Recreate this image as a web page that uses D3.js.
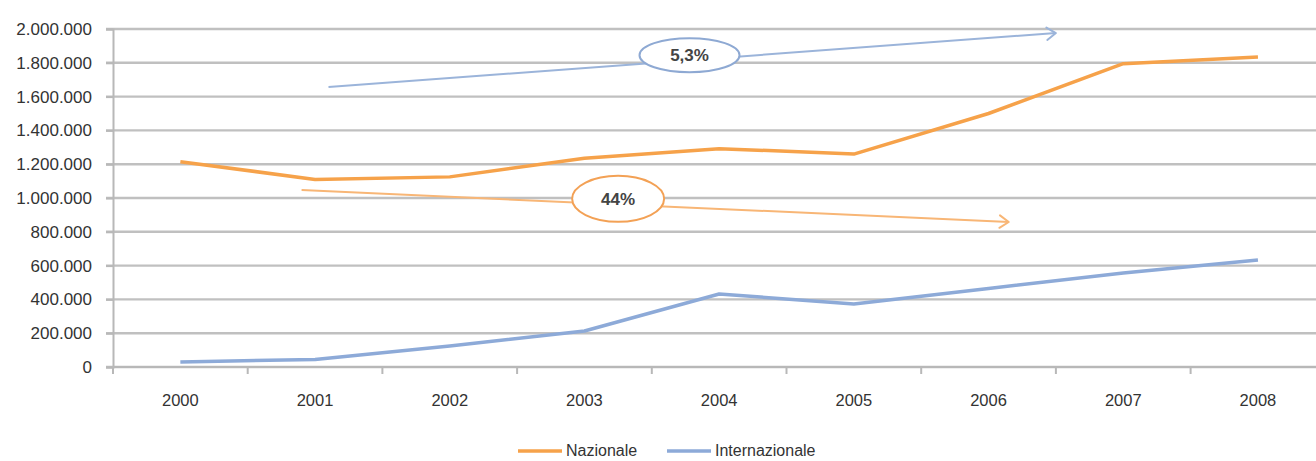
<!DOCTYPE html>
<html>
<head>
<meta charset="utf-8">
<script src="https://cdn.jsdelivr.net/npm/d3@7"></script>
<style>
  html, body { margin: 0; padding: 0; background: #fff; }
  svg { display: block; font-family: "Liberation Sans", Arial, sans-serif; }
</style>
</head>
<body>
<svg id="chart" width="1316" height="461"></svg>
<script>
// Passenger series, 2000-2008
const years = ["2000", "2001", "2002", "2003", "2004", "2005", "2006", "2007", "2008"];
const nazionale = [1215000, 1110000, 1125000, 1235000, 1292000, 1260000, 1500000, 1795000, 1835000];
const internazionale = [30000, 45000, 124000, 213000, 432000, 373000, 465000, 556000, 633000];
const yTicks = [0, 200000, 400000, 600000, 800000, 1000000, 1200000, 1400000, 1600000, 1800000, 2000000];
const seriesNames = ["Nazionale", "Internazionale"];

// Trend arrows: start/end as (year position, value), with a label on each
const trendLabels = ["5,3%", "44%"];
const trendStart = [[1.10, 1657000], [0.90, 1047000]];
const trendEnd = [[6.50, 1976000], [6.15, 858000]];
const trendBadge = [[3.78, 1845000], [3.25, 995000]];

const colors = { Nazionale: "#F6A24A", Internazionale: "#8DAAD8" };
const trendColors = ["#9BB4DA", "#F8B676"];

const svg = d3.select("#chart");
const W = 1316;

const x = d3.scaleBand().domain(years).range([113, 113 + 9 * 134.7]);
const y = d3.scaleLinear().domain([0, 2000000]).range([367, 29]);
// continuous position along the category axis (band centres)
const xPos = d3.scaleLinear().domain([0, 1]).range([x(years[0]) + x.bandwidth() / 2, x(years[1]) + x.bandwidth() / 2]);

const itFormat = d3.formatLocale({ decimal: ",", thousands: ".", grouping: [3], currency: ["", "€"] }).format(",");

// horizontal gridlines
svg.append("g")
  .selectAll("line")
  .data(yTicks)
  .join("line")
  .attr("x1", 106).attr("x2", W)
  .attr("y1", d => y(d)).attr("y2", d => y(d))
  .attr("stroke", "#C0C0C0")
  .attr("stroke-width", 2.4);

// y axis
const yAxis = svg.append("g")
  .attr("transform", "translate(113,0)")
  .call(d3.axisLeft(y).tickValues(yTicks).tickFormat(itFormat).tickSize(7).tickPadding(14));
yAxis.select(".domain").attr("stroke", "#B8B8B8").attr("stroke-width", 2);
yAxis.selectAll(".tick line").attr("stroke", "#B8B8B8").attr("stroke-width", 2);
yAxis.selectAll("text").attr("font-size", 17).attr("fill", "#333").attr("font-family", "Liberation Sans, Arial, sans-serif");

// x axis
const xAxis = svg.append("g")
  .attr("transform", "translate(0,367)");
xAxis.append("line")
  .attr("x1", 113).attr("x2", W)
  .attr("stroke", "#B8B8B8").attr("stroke-width", 2);
xAxis.selectAll(".xtick")
  .data(d3.range(years.length + 1))
  .join("line")
  .attr("class", "xtick")
  .attr("x1", i => x.range()[0] + i * x.step())
  .attr("x2", i => x.range()[0] + i * x.step())
  .attr("y1", 0).attr("y2", 7)
  .attr("stroke", "#B8B8B8").attr("stroke-width", 2);
xAxis.selectAll(".xlabel")
  .data(years)
  .join("text")
  .attr("class", "xlabel")
  .attr("x", d => x(d) + x.bandwidth() / 2)
  .attr("y", 39)
  .attr("text-anchor", "middle")
  .attr("font-size", 16.5)
  .attr("fill", "#333")
  .text(d => d);

// series lines
const line = d3.line()
  .x((d, i) => x(years[i]) + x.bandwidth() / 2)
  .y(d => y(d));

[[nazionale, "Nazionale"], [internazionale, "Internazionale"]].forEach(([vals, name]) => {
  svg.append("path")
    .datum(vals)
    .attr("d", line)
    .attr("fill", "none")
    .attr("stroke", colors[name])
    .attr("stroke-width", 3.5)
    .attr("stroke-linejoin", "round");
});

// trend arrows with labelled ellipses
trendLabels.forEach((label, k) => {
  const x1 = xPos(trendStart[k][0]), y1 = y(trendStart[k][1]);
  const x2 = xPos(trendEnd[k][0]), y2 = y(trendEnd[k][1]);
  const col = trendColors[k];
  const g = svg.append("g");
  g.append("line")
    .attr("x1", x1).attr("y1", y1).attr("x2", x2).attr("y2", y2)
    .attr("stroke", col).attr("stroke-width", 2);
  const ang = Math.atan2(y2 - y1, x2 - x1);
  const L = 11, spread = 0.6;
  const head = [
    [x2 - L * Math.cos(ang - spread), y2 - L * Math.sin(ang - spread)],
    [x2, y2],
    [x2 - L * Math.cos(ang + spread), y2 - L * Math.sin(ang + spread)]
  ];
  g.append("path")
    .attr("d", d3.line()(head))
    .attr("fill", "none").attr("stroke", col).attr("stroke-width", 2)
    .attr("stroke-linejoin", "round").attr("stroke-linecap", "round");
  const cx = xPos(trendBadge[k][0]), cy = y(trendBadge[k][1]);
  g.append("ellipse")
    .attr("cx", cx).attr("cy", cy)
    .attr("rx", k === 0 ? 50 : 46).attr("ry", k === 0 ? 17 : 23)
    .attr("fill", "#fff")
    .attr("stroke", k === 0 ? "#8EA9D3" : "#F3A155")
    .attr("stroke-width", 2);
  g.append("text")
    .attr("x", cx).attr("y", cy + 6)
    .attr("text-anchor", "middle")
    .attr("font-size", 17)
    .attr("font-weight", "bold")
    .attr("fill", "#444")
    .text(label);
});

// legend
const legendX = [518, 667];
seriesNames.forEach((name, i) => {
  svg.append("line")
    .attr("x1", legendX[i]).attr("x2", legendX[i] + 44)
    .attr("y1", 451).attr("y2", 451)
    .attr("stroke", colors[name]).attr("stroke-width", 3.5);
  svg.append("text")
    .attr("x", legendX[i] + 48).attr("y", 456)
    .attr("font-size", 16)
    .attr("fill", "#333")
    .text(name);
});
</script>
</body>
</html>
